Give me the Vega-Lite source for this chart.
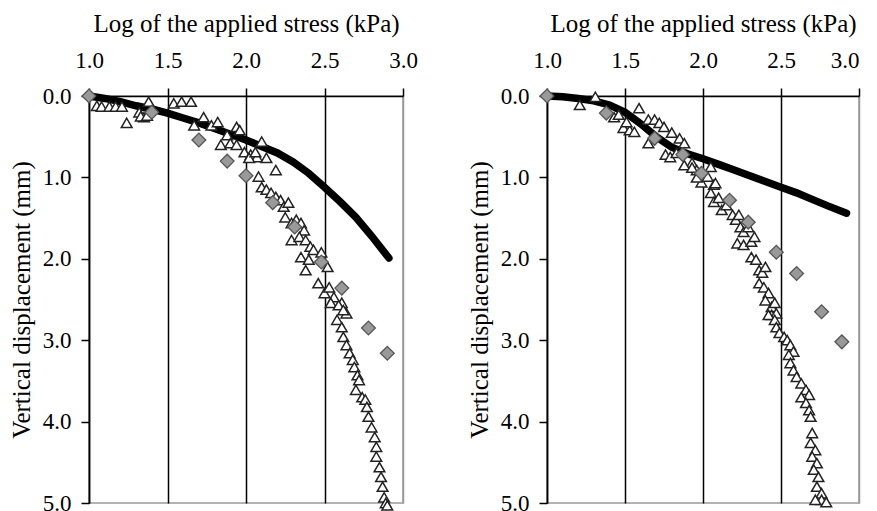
{
  "$schema": "https://vega.github.io/schema/vega-lite/v6.json",
  "background": "white",
  "padding": {"left": 8, "top": 10, "right": 0, "bottom": 0},
  "spacing": 47,
  "config": {
    "font": "Liberation Serif",
    "view": {"stroke": "#999", "strokeWidth": 1.5},
    "axis": {
      "labelFont": "Liberation Serif", "titleFont": "Liberation Serif",
      "labelColor": "black", "titleColor": "black",
      "labelFontSize": 23, "titleFontSize": 25, "titleFontWeight": "normal",
      "domainColor": "black", "domainWidth": 1.5,
      "tickColor": "black", "tickWidth": 1.5, "tickSize": 8
    }
  },
  "datasets": {
    "left": [
      {"s": "fit", "x": 1.0, "y": 0.0}, {"s": "fit", "x": 1.1, "y": 0.03}, {"s": "fit", "x": 1.2, "y": 0.07}, {"s": "fit", "x": 1.3, "y": 0.12},
      {"s": "fit", "x": 1.4, "y": 0.16}, {"s": "fit", "x": 1.5, "y": 0.21}, {"s": "fit", "x": 1.6, "y": 0.27}, {"s": "fit", "x": 1.7, "y": 0.33},
      {"s": "fit", "x": 1.8, "y": 0.40}, {"s": "fit", "x": 1.9, "y": 0.47}, {"s": "fit", "x": 2.0, "y": 0.54}, {"s": "fit", "x": 2.1, "y": 0.62},
      {"s": "fit", "x": 2.2, "y": 0.70}, {"s": "fit", "x": 2.3, "y": 0.81}, {"s": "fit", "x": 2.4, "y": 0.95}, {"s": "fit", "x": 2.5, "y": 1.12},
      {"s": "fit", "x": 2.6, "y": 1.30}, {"s": "fit", "x": 2.7, "y": 1.49}, {"s": "fit", "x": 2.8, "y": 1.72}, {"s": "fit", "x": 2.91, "y": 1.99},
      {"s": "dia", "x": 1.0, "y": 0.0}, {"s": "dia", "x": 1.40, "y": 0.20}, {"s": "dia", "x": 1.70, "y": 0.54}, {"s": "dia", "x": 1.88, "y": 0.80},
      {"s": "dia", "x": 2.00, "y": 0.98}, {"s": "dia", "x": 2.17, "y": 1.31}, {"s": "dia", "x": 2.31, "y": 1.61}, {"s": "dia", "x": 2.48, "y": 2.04},
      {"s": "dia", "x": 2.61, "y": 2.36}, {"s": "dia", "x": 2.78, "y": 2.85}, {"s": "dia", "x": 2.90, "y": 3.16},
      {"s": "tri", "x": 1.05, "y": 0.12}, {"s": "tri", "x": 1.08, "y": 0.13}, {"s": "tri", "x": 1.13, "y": 0.13}, {"s": "tri", "x": 1.17, "y": 0.13},
      {"s": "tri", "x": 1.21, "y": 0.13}, {"s": "tri", "x": 1.24, "y": 0.33}, {"s": "tri", "x": 1.32, "y": 0.20}, {"s": "tri", "x": 1.35, "y": 0.26},
      {"s": "tri", "x": 1.38, "y": 0.07}, {"s": "tri", "x": 1.33, "y": 0.25}, {"s": "tri", "x": 1.37, "y": 0.24}, {"s": "tri", "x": 1.54, "y": 0.09},
      {"s": "tri", "x": 1.59, "y": 0.07}, {"s": "tri", "x": 1.65, "y": 0.07}, {"s": "tri", "x": 1.67, "y": 0.36}, {"s": "tri", "x": 1.73, "y": 0.26},
      {"s": "tri", "x": 1.78, "y": 0.36}, {"s": "tri", "x": 1.82, "y": 0.32}, {"s": "tri", "x": 1.84, "y": 0.60}, {"s": "tri", "x": 1.88, "y": 0.48},
      {"s": "tri", "x": 1.90, "y": 0.58}, {"s": "tri", "x": 1.94, "y": 0.38}, {"s": "tri", "x": 1.96, "y": 0.42}, {"s": "tri", "x": 1.94, "y": 0.60},
      {"s": "tri", "x": 1.99, "y": 0.69}, {"s": "tri", "x": 2.03, "y": 0.72}, {"s": "tri", "x": 2.07, "y": 0.75}, {"s": "tri", "x": 2.02, "y": 0.76},
      {"s": "tri", "x": 2.06, "y": 0.69}, {"s": "tri", "x": 2.10, "y": 0.56}, {"s": "tri", "x": 2.13, "y": 0.76}, {"s": "tri", "x": 2.19, "y": 0.91},
      {"s": "tri", "x": 2.08, "y": 0.99}, {"s": "tri", "x": 2.10, "y": 1.12}, {"s": "tri", "x": 2.13, "y": 1.15}, {"s": "tri", "x": 2.16, "y": 1.19},
      {"s": "tri", "x": 2.19, "y": 1.24}, {"s": "tri", "x": 2.22, "y": 1.28}, {"s": "tri", "x": 2.24, "y": 1.36}, {"s": "tri", "x": 2.27, "y": 1.31},
      {"s": "tri", "x": 2.25, "y": 1.49}, {"s": "tri", "x": 2.29, "y": 1.56}, {"s": "tri", "x": 2.32, "y": 1.52}, {"s": "tri", "x": 2.35, "y": 1.56},
      {"s": "tri", "x": 2.37, "y": 1.65}, {"s": "tri", "x": 2.29, "y": 1.77}, {"s": "tri", "x": 2.34, "y": 1.73}, {"s": "tri", "x": 2.38, "y": 1.77},
      {"s": "tri", "x": 2.41, "y": 1.85}, {"s": "tri", "x": 2.43, "y": 1.89}, {"s": "tri", "x": 2.35, "y": 1.98}, {"s": "tri", "x": 2.38, "y": 2.14},
      {"s": "tri", "x": 2.40, "y": 2.01}, {"s": "tri", "x": 2.48, "y": 1.92}, {"s": "tri", "x": 2.52, "y": 2.10}, {"s": "tri", "x": 2.46, "y": 2.30},
      {"s": "tri", "x": 2.50, "y": 2.42}, {"s": "tri", "x": 2.53, "y": 2.35}, {"s": "tri", "x": 2.56, "y": 2.47}, {"s": "tri", "x": 2.61, "y": 2.54},
      {"s": "tri", "x": 2.64, "y": 2.67}, {"s": "tri", "x": 2.54, "y": 2.54}, {"s": "tri", "x": 2.59, "y": 2.57}, {"s": "tri", "x": 2.62, "y": 2.63},
      {"s": "tri", "x": 2.58, "y": 2.75}, {"s": "tri", "x": 2.61, "y": 2.84}, {"s": "tri", "x": 2.62, "y": 2.96}, {"s": "tri", "x": 2.64, "y": 3.06},
      {"s": "tri", "x": 2.66, "y": 3.16}, {"s": "tri", "x": 2.68, "y": 3.24}, {"s": "tri", "x": 2.69, "y": 3.33}, {"s": "tri", "x": 2.71, "y": 3.43},
      {"s": "tri", "x": 2.72, "y": 3.49}, {"s": "tri", "x": 2.70, "y": 3.61}, {"s": "tri", "x": 2.74, "y": 3.70}, {"s": "tri", "x": 2.76, "y": 3.73},
      {"s": "tri", "x": 2.77, "y": 3.82}, {"s": "tri", "x": 2.78, "y": 3.94}, {"s": "tri", "x": 2.80, "y": 4.07}, {"s": "tri", "x": 2.82, "y": 4.19},
      {"s": "tri", "x": 2.83, "y": 4.31}, {"s": "tri", "x": 2.83, "y": 4.43}, {"s": "tri", "x": 2.85, "y": 4.56}, {"s": "tri", "x": 2.86, "y": 4.68},
      {"s": "tri", "x": 2.87, "y": 4.80}, {"s": "tri", "x": 2.88, "y": 4.93}, {"s": "tri", "x": 2.89, "y": 5.0}, {"s": "tri", "x": 2.90, "y": 5.03}
    ],
    "right": [
      {"s": "fit", "x": 1.0, "y": 0.0}, {"s": "fit", "x": 1.1, "y": 0.01}, {"s": "fit", "x": 1.2, "y": 0.03}, {"s": "fit", "x": 1.3, "y": 0.06},
      {"s": "fit", "x": 1.4, "y": 0.11}, {"s": "fit", "x": 1.5, "y": 0.20}, {"s": "fit", "x": 1.6, "y": 0.34}, {"s": "fit", "x": 1.7, "y": 0.50},
      {"s": "fit", "x": 1.8, "y": 0.63}, {"s": "fit", "x": 1.9, "y": 0.71}, {"s": "fit", "x": 2.0, "y": 0.77}, {"s": "fit", "x": 2.1, "y": 0.84},
      {"s": "fit", "x": 2.2, "y": 0.91}, {"s": "fit", "x": 2.3, "y": 0.98}, {"s": "fit", "x": 2.4, "y": 1.05}, {"s": "fit", "x": 2.5, "y": 1.12},
      {"s": "fit", "x": 2.6, "y": 1.19}, {"s": "fit", "x": 2.7, "y": 1.27}, {"s": "fit", "x": 2.8, "y": 1.35}, {"s": "fit", "x": 2.92, "y": 1.44},
      {"s": "dia", "x": 1.0, "y": 0.0}, {"s": "dia", "x": 1.38, "y": 0.21}, {"s": "dia", "x": 1.69, "y": 0.52}, {"s": "dia", "x": 1.87, "y": 0.72},
      {"s": "dia", "x": 1.99, "y": 0.95}, {"s": "dia", "x": 2.17, "y": 1.28}, {"s": "dia", "x": 2.29, "y": 1.55}, {"s": "dia", "x": 2.47, "y": 1.92},
      {"s": "dia", "x": 2.60, "y": 2.18}, {"s": "dia", "x": 2.76, "y": 2.65}, {"s": "dia", "x": 2.89, "y": 3.02},
      {"s": "tri", "x": 1.21, "y": 0.11}, {"s": "tri", "x": 1.31, "y": 0.01}, {"s": "tri", "x": 1.43, "y": 0.26}, {"s": "tri", "x": 1.46, "y": 0.23},
      {"s": "tri", "x": 1.49, "y": 0.39}, {"s": "tri", "x": 1.53, "y": 0.42}, {"s": "tri", "x": 1.56, "y": 0.44}, {"s": "tri", "x": 1.51, "y": 0.32},
      {"s": "tri", "x": 1.59, "y": 0.15}, {"s": "tri", "x": 1.65, "y": 0.29}, {"s": "tri", "x": 1.69, "y": 0.29}, {"s": "tri", "x": 1.72, "y": 0.33},
      {"s": "tri", "x": 1.75, "y": 0.38}, {"s": "tri", "x": 1.65, "y": 0.58}, {"s": "tri", "x": 1.76, "y": 0.72}, {"s": "tri", "x": 1.79, "y": 0.75},
      {"s": "tri", "x": 1.83, "y": 0.70}, {"s": "tri", "x": 1.80, "y": 0.45}, {"s": "tri", "x": 1.85, "y": 0.52}, {"s": "tri", "x": 1.88, "y": 0.58},
      {"s": "tri", "x": 1.93, "y": 0.82}, {"s": "tri", "x": 1.96, "y": 0.91}, {"s": "tri", "x": 1.99, "y": 1.06}, {"s": "tri", "x": 2.03, "y": 0.99},
      {"s": "tri", "x": 2.07, "y": 1.09}, {"s": "tri", "x": 2.05, "y": 0.87}, {"s": "tri", "x": 1.88, "y": 0.85}, {"s": "tri", "x": 1.93, "y": 0.88},
      {"s": "tri", "x": 1.96, "y": 1.00}, {"s": "tri", "x": 2.08, "y": 1.07}, {"s": "tri", "x": 2.05, "y": 1.19}, {"s": "tri", "x": 2.07, "y": 1.30},
      {"s": "tri", "x": 2.10, "y": 1.25}, {"s": "tri", "x": 2.12, "y": 1.40}, {"s": "tri", "x": 2.15, "y": 1.34}, {"s": "tri", "x": 2.19, "y": 1.46},
      {"s": "tri", "x": 2.21, "y": 1.52}, {"s": "tri", "x": 2.23, "y": 1.46}, {"s": "tri", "x": 2.24, "y": 1.61}, {"s": "tri", "x": 2.26, "y": 1.67},
      {"s": "tri", "x": 2.22, "y": 1.81}, {"s": "tri", "x": 2.26, "y": 1.83}, {"s": "tri", "x": 2.31, "y": 1.79}, {"s": "tri", "x": 2.33, "y": 1.73},
      {"s": "tri", "x": 2.29, "y": 1.61}, {"s": "tri", "x": 2.31, "y": 1.98}, {"s": "tri", "x": 2.34, "y": 2.01}, {"s": "tri", "x": 2.36, "y": 2.14},
      {"s": "tri", "x": 2.38, "y": 2.17}, {"s": "tri", "x": 2.40, "y": 2.10}, {"s": "tri", "x": 2.36, "y": 2.30}, {"s": "tri", "x": 2.39, "y": 2.35},
      {"s": "tri", "x": 2.42, "y": 2.42}, {"s": "tri", "x": 2.40, "y": 2.51}, {"s": "tri", "x": 2.44, "y": 2.59}, {"s": "tri", "x": 2.46, "y": 2.54},
      {"s": "tri", "x": 2.44, "y": 2.69}, {"s": "tri", "x": 2.47, "y": 2.67}, {"s": "tri", "x": 2.42, "y": 2.69}, {"s": "tri", "x": 2.46, "y": 2.75},
      {"s": "tri", "x": 2.47, "y": 2.84}, {"s": "tri", "x": 2.49, "y": 2.91}, {"s": "tri", "x": 2.52, "y": 2.96}, {"s": "tri", "x": 2.54, "y": 3.00},
      {"s": "tri", "x": 2.56, "y": 3.06}, {"s": "tri", "x": 2.58, "y": 3.14}, {"s": "tri", "x": 2.55, "y": 3.18}, {"s": "tri", "x": 2.56, "y": 3.28},
      {"s": "tri", "x": 2.58, "y": 3.37}, {"s": "tri", "x": 2.60, "y": 3.45}, {"s": "tri", "x": 2.63, "y": 3.53}, {"s": "tri", "x": 2.66, "y": 3.61},
      {"s": "tri", "x": 2.68, "y": 3.67}, {"s": "tri", "x": 2.63, "y": 3.70}, {"s": "tri", "x": 2.66, "y": 3.77}, {"s": "tri", "x": 2.68, "y": 3.86},
      {"s": "tri", "x": 2.69, "y": 3.94}, {"s": "tri", "x": 2.70, "y": 4.14}, {"s": "tri", "x": 2.69, "y": 4.26}, {"s": "tri", "x": 2.72, "y": 4.35},
      {"s": "tri", "x": 2.70, "y": 4.43}, {"s": "tri", "x": 2.73, "y": 4.51}, {"s": "tri", "x": 2.71, "y": 4.59}, {"s": "tri", "x": 2.74, "y": 4.68},
      {"s": "tri", "x": 2.73, "y": 4.80}, {"s": "tri", "x": 2.76, "y": 4.88}, {"s": "tri", "x": 2.76, "y": 4.96}, {"s": "tri", "x": 2.72, "y": 4.96},
      {"s": "tri", "x": 2.79, "y": 4.99}
    ]
  },
  "hconcat": [
    {
      "width": 314, "height": 407,
      "data": {"name": "left"},
      "encoding": {
        "x": {"field": "x", "type": "quantitative",
          "scale": {"domain": [1, 3], "nice": false, "zero": false},
          "axis": {"orient": "top", "title": "Log of the applied stress (kPa)", "values": [1, 1.5, 2, 2.5, 3], "format": ".1f",
            "grid": true, "gridColor": {"condition": {"test": "datum.value >= 3", "value": "#999"}, "value": "black"}, "gridWidth": 1.5,
            "labelPadding": 16, "titlePadding": 13, "labelFlush": false}},
        "y": {"field": "y", "type": "quantitative",
          "scale": {"domain": [0, 5], "reverse": true, "nice": false, "zero": false},
          "axis": {"title": "Vertical displacement (mm)", "values": [0, 1, 2, 3, 4, 5], "format": ".1f", "grid": false,
            "labelPadding": 10, "titlePadding": 8, "labelFlush": false}}
      },
      "layer": [
        {"transform": [{"filter": "datum.s === 'fit'"}], "mark": {"type": "line", "color": "black", "strokeWidth": 7.5, "strokeCap": "round", "clip": false}},
        {"transform": [{"filter": "datum.s === 'tri'"}], "mark": {"type": "point", "shape": "triangle-up", "filled": true, "fill": "white", "stroke": "#222", "strokeWidth": 1.5, "size": 115, "opacity": 1, "clip": false}},
        {"transform": [{"filter": "datum.s === 'dia'"}], "mark": {"type": "point", "shape": "diamond", "filled": true, "fill": "#999", "stroke": "#555", "strokeWidth": 1.3, "size": 190, "opacity": 1, "clip": false}}
      ]
    },
    {
      "width": 312, "height": 407,
      "data": {"name": "right"},
      "encoding": {
        "x": {"field": "x", "type": "quantitative",
          "scale": {"domain": [1, 3], "nice": false, "zero": false},
          "axis": {"orient": "top", "title": "Log of the applied stress (kPa)", "values": [1, 1.5, 2, 2.5, 3], "format": ".1f",
            "grid": true, "gridColor": {"condition": {"test": "datum.value >= 3", "value": "#999"}, "value": "black"}, "gridWidth": 1.5,
            "labelAlign": {"condition": {"test": "datum.value >= 3", "value": "right"}, "value": "center"},
            "labelPadding": 16, "titlePadding": 13, "labelFlush": false}},
        "y": {"field": "y", "type": "quantitative",
          "scale": {"domain": [0, 5], "reverse": true, "nice": false, "zero": false},
          "axis": {"title": "Vertical displacement (mm)", "values": [0, 1, 2, 3, 4, 5], "format": ".1f", "grid": false,
            "labelPadding": 10, "titlePadding": 8, "labelFlush": false}}
      },
      "layer": [
        {"transform": [{"filter": "datum.s === 'fit'"}], "mark": {"type": "line", "color": "black", "strokeWidth": 7.5, "strokeCap": "round", "clip": false}},
        {"transform": [{"filter": "datum.s === 'tri'"}], "mark": {"type": "point", "shape": "triangle-up", "filled": true, "fill": "white", "stroke": "#222", "strokeWidth": 1.5, "size": 115, "opacity": 1, "clip": false}},
        {"transform": [{"filter": "datum.s === 'dia'"}], "mark": {"type": "point", "shape": "diamond", "filled": true, "fill": "#999", "stroke": "#555", "strokeWidth": 1.3, "size": 190, "opacity": 1, "clip": false}}
      ]
    }
  ]
}
